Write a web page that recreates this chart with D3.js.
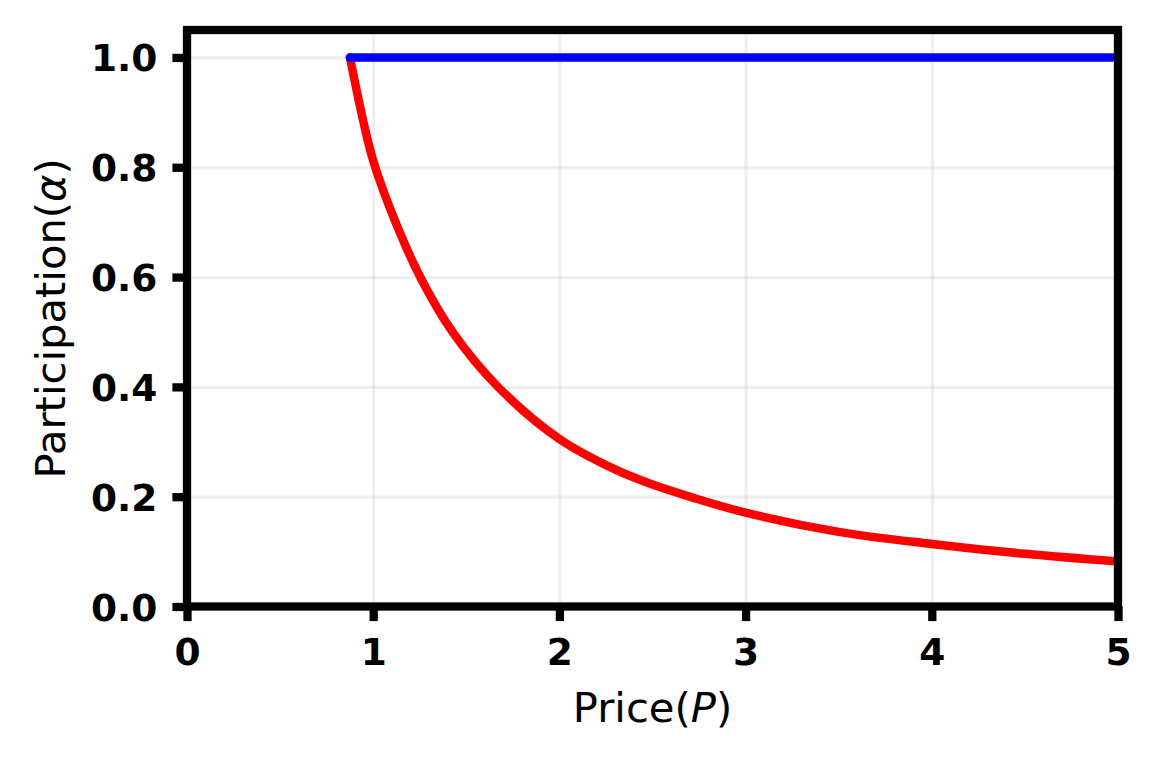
<!DOCTYPE html>
<html lang="en">
<head>
  <meta charset="utf-8">
  <title>Participation vs Price</title>
  <style>
    body {
      margin: 0;
      background: #fff;
    }

    .axis text {
      font-family: "DejaVu Sans", sans-serif;
      font-size: 37.5px;
      font-weight: bold;
      fill: #000;
    }

    .axis path {
      display: none;
    }

    .axis line {
      stroke: #000;
      stroke-width: 8.3px;
    }

    .grid path {
      display: none;
    }

    .grid line {
      stroke: #b0b0b0;
      stroke-opacity: 0.2;
      stroke-width: 3.3px;
    }

    .label {
      font-family: "DejaVu Sans", sans-serif;
      font-size: 41.7px;
      fill: #000;
    }
  </style>
</head>
<body>
  <div id="chart"></div>

  <script src="https://cdn.jsdelivr.net/npm/d3@7"></script>
  <script>
    // values
    var xTicks = [0, 1, 2, 3, 4, 5];
    var yTicks = [0, 0.2, 0.4, 0.6, 0.8, 1.0];
    var xTickLabels = ["0", "1", "2", "3", "4", "5"];
    var yTickLabels = ["0.0", "0.2", "0.4", "0.6", "0.8", "1.0"];

    // red curve
    var redPrice = [0.875, 0.946, 1.0, 1.12, 1.26, 1.43, 1.67, 2.0, 2.29, 2.5, 2.7, 3.0, 3.5, 4.0, 4.5, 5.0];
    var redAlpha = [1.0, 0.885, 0.812, 0.700, 0.595, 0.498, 0.40, 0.305, 0.251, 0.222, 0.20, 0.171, 0.136, 0.114, 0.096, 0.082];

    // blue line
    var bluePrice = [0.875, 5.0];
    var blueAlpha = [1.0, 1.0];

    var W = 1161, H = 761;
    var plotLeft = 187, plotRight = 1118, plotTop = 30, plotBottom = 606.5;

    var x = d3.scaleLinear().domain([0, 5]).range([plotLeft, plotRight]);
    var y = d3.scaleLinear().domain([0, 1.05]).range([plotBottom, plotTop]);

    var svg = d3.select("#chart").append("svg")
        .attr("width", W)
        .attr("height", H)
        .style("display", "block");

    svg.append("rect").attr("width", W).attr("height", H).attr("fill", "#fff");

    svg.append("clipPath").attr("id", "plot-clip")
      .append("rect")
        .attr("x", plotLeft).attr("y", plotTop)
        .attr("width", plotRight - plotLeft).attr("height", plotBottom - plotTop);

    // grid
    svg.append("g")
        .attr("class", "grid")
        .attr("transform", "translate(0," + plotBottom + ")")
        .call(d3.axisBottom(x).tickValues(xTicks).tickSize(-(plotBottom - plotTop)).tickFormat(""));

    svg.append("g")
        .attr("class", "grid")
        .attr("transform", "translate(" + plotLeft + ",0)")
        .call(d3.axisLeft(y).tickValues(yTicks).tickSize(-(plotRight - plotLeft)).tickFormat(""));

    // curves
    var redData = redPrice.map(function(p, i) { return [p, redAlpha[i]]; });
    var blueData = bluePrice.map(function(p, i) { return [p, blueAlpha[i]]; });

    var line = d3.line()
        .x(function(d) { return x(d[0]); })
        .y(function(d) { return y(d[1]); })
        .curve(d3.curveCatmullRom.alpha(0.5));

    var plot = svg.append("g").attr("clip-path", "url(#plot-clip)");

    plot.append("path")
        .datum(redData)
        .attr("d", line)
        .attr("fill", "none")
        .attr("stroke", "#ff0000")
        .attr("stroke-width", 8.5)
        .attr("stroke-linecap", "round")
        .attr("stroke-linejoin", "round");

    plot.append("path")
        .datum(blueData)
        .attr("d", line)
        .attr("fill", "none")
        .attr("stroke", "#0000ff")
        .attr("stroke-width", 8.5)
        .attr("stroke-linecap", "round");

    // axes
    svg.append("g")
        .attr("class", "x axis")
        .attr("transform", "translate(0," + plotBottom + ")")
        .call(d3.axisBottom(x)
          .tickValues(xTicks)
          .tickFormat(function(d, i) { return xTickLabels[i]; })
          .tickSize(14.6)
          .tickPadding(17));

    svg.append("g")
        .attr("class", "y axis")
        .attr("transform", "translate(" + plotLeft + ",0)")
        .call(d3.axisLeft(y)
          .tickValues(yTicks)
          .tickFormat(function(d, i) { return yTickLabels[i]; })
          .tickSize(14.6)
          .tickPadding(15))
      .selectAll("text")
        .attr("dy", "0.36em");

    // spines
    svg.append("rect")
        .attr("x", plotLeft).attr("y", plotTop)
        .attr("width", plotRight - plotLeft).attr("height", plotBottom - plotTop)
        .attr("fill", "none")
        .attr("stroke", "#000")
        .attr("stroke-width", 8.3);

    // axis labels
    var xl = svg.append("text")
        .attr("class", "label")
        .attr("x", (plotLeft + plotRight) / 2)
        .attr("y", 722)
        .attr("text-anchor", "middle");
    xl.append("tspan").text("Price(");
    xl.append("tspan").attr("font-style", "italic").text("P");
    xl.append("tspan").text(")");

    var yl = svg.append("text")
        .attr("class", "label")
        .attr("transform", "translate(64.5," + ((plotTop + plotBottom) / 2) + ") rotate(-90)")
        .attr("text-anchor", "middle");
    yl.append("tspan").text("Participation(");
    yl.append("tspan").attr("font-style", "italic").text("α");
    yl.append("tspan").text(")");
  </script>
</body>
</html>
